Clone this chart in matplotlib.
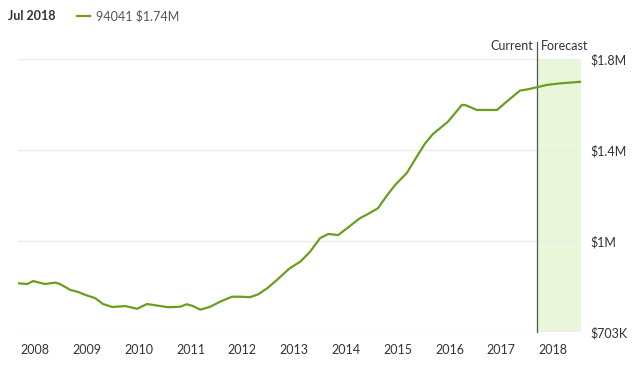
import matplotlib
matplotlib.use("Agg")
import matplotlib.pyplot as plt
from matplotlib.lines import Line2D

# home value index, zip 94041 ($M)
years = [2007.67, 2007.85, 2007.96, 2008.19, 2008.39, 2008.48, 2008.68, 2008.83,
         2008.97, 2009.16, 2009.31, 2009.49, 2009.74, 2009.97, 2010.16, 2010.36,
         2010.57, 2010.80, 2010.93, 2011.05, 2011.19, 2011.38, 2011.57, 2011.80,
         2011.96, 2012.15, 2012.31, 2012.48, 2012.67, 2012.92, 2013.12, 2013.31,
         2013.50, 2013.66, 2013.85, 2014.08, 2014.27, 2014.47, 2014.62, 2014.80,
         2014.95, 2015.18, 2015.37, 2015.53, 2015.68, 2015.97, 2016.24, 2016.30,
         2016.53, 2016.92, 2017.03, 2017.36, 2017.52, 2017.69, 2017.88, 2018.14,
         2018.54]
values = [0.814, 0.811, 0.824, 0.811, 0.817, 0.811, 0.785, 0.776,
          0.763, 0.749, 0.723, 0.710, 0.714, 0.702, 0.723, 0.716,
          0.709, 0.711, 0.722, 0.714, 0.698, 0.711, 0.733, 0.755,
          0.755, 0.753, 0.766, 0.792, 0.829, 0.881, 0.909, 0.953,
          1.012, 1.031, 1.026, 1.066, 1.100, 1.124, 1.144, 1.202,
          1.246, 1.300, 1.371, 1.429, 1.470, 1.524, 1.598, 1.598,
          1.576, 1.576, 1.598, 1.661, 1.667, 1.676, 1.686, 1.693,
          1.700]

current = 2017.69
forecast_end = 2018.54

year_ticks = list(range(2008, 2019))
y_ticks = [0.6, 1.0, 1.4, 1.8]
y_labels = ["\\$703K", "\\$1M", "\\$1.4M", "\\$1.8M"]

green = "#6b9e1f"
plt.rcParams['font.family'] = ['Lato', 'DejaVu Sans']

fig = plt.figure(figsize=(6.4, 3.65), dpi=100)
ax = fig.add_axes([18/640, 1-332/365, (581-18)/640, (332-59)/365])

ax.axvspan(current, forecast_end, color="#eaf6da", lw=0, zorder=0)
ax.plot(years, values, color=green, lw=1.6, solid_capstyle="round", zorder=3)
ax.axvline(current, ymin=0, ymax=(332-42)/(332-59), color="#555555", lw=0.9,
           clip_on=False, zorder=2)

ax.set_xlim(2007.67, forecast_end)
ax.set_ylim(0.6, 1.8)
ax.set_xticks(year_ticks)
ax.set_xticklabels([str(y) for y in year_ticks])
ax.set_yticks(y_ticks)
ax.set_yticklabels(y_labels)
ax.yaxis.tick_right()
ax.tick_params(axis='x', length=0, pad=9, labelsize=9, labelcolor="#333333")
ax.tick_params(axis='y', length=0, pad=7, labelsize=9, labelcolor="#333333")
for lab in ax.get_yticklabels():
    lab.set_horizontalalignment("left")
ax.grid(axis='y', color="#ececec", lw=1)
ax.set_axisbelow(True)
for s in ax.spines.values():
    s.set_visible(False)

# header
fig.text(8/640, 1-16/365, "Jul 2018", fontsize=9, fontweight="bold",
         color="#333333", va="center")
fig.add_artist(Line2D([77/640, 90/640], [1-16/365, 1-16/365], color=green, lw=1.6))
fig.text(96/640, 1-16/365, "94041 \\$1.74M", fontsize=9, color="#555555", va="center")

fig.text(533/640, 1-46/365, "Current", fontsize=9, color="#333333",
         ha="right", va="center")
fig.text(541/640, 1-46/365, "Forecast", fontsize=9, color="#333333",
         ha="left", va="center")

fig.savefig("out.png", dpi=100)
